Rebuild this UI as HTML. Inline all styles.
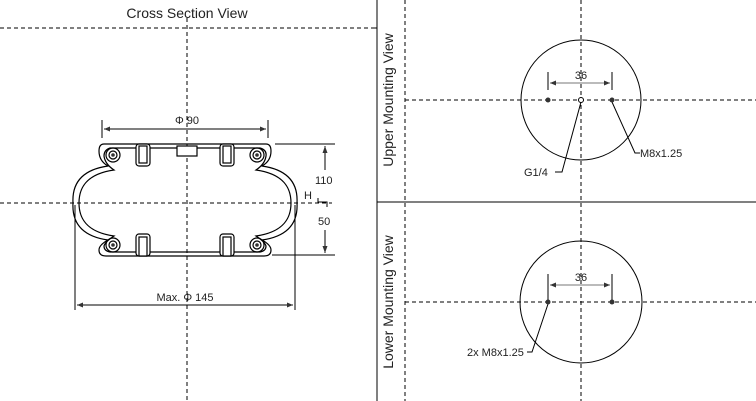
<!DOCTYPE html>
<html><head><style>
body{margin:0;background:#fff}
svg{display:block}
text{font-family:"Liberation Sans",sans-serif;fill:#222}
</style></head><body>
<svg width="756" height="401" viewBox="0 0 756 401">
<g stroke="#000" fill="none" stroke-width="1">
<line x1="377" y1="0" x2="377" y2="401"/>
<line x1="377" y1="202" x2="756" y2="202"/>
<line x1="374" y1="28" x2="377" y2="28"/>
<g stroke-dasharray="4,3">
<line x1="0" y1="28" x2="374" y2="28"/>
<line x1="187" y1="18" x2="187" y2="401"/>
<line x1="0" y1="203" x2="332" y2="203"/>
<line x1="405" y1="0" x2="405" y2="401"/>
<line x1="581" y1="0" x2="581" y2="401"/>
<line x1="405" y1="100" x2="756" y2="100"/>
<line x1="405" y1="302" x2="756" y2="302"/>
</g>
<circle cx="581" cy="100" r="60"/>
<circle cx="581" cy="302" r="61"/>
<line x1="548" y1="72" x2="548" y2="90"/><line x1="612" y1="72" x2="612" y2="90"/>
<line x1="550" y1="83" x2="610" y2="83" stroke="#777"/>
<line x1="548" y1="274" x2="548" y2="302"/><line x1="612" y1="274" x2="612" y2="302"/>
<line x1="550" y1="285" x2="610" y2="285" stroke="#777"/>
<polyline points="581,102 562,172 555,172"/>
<polyline points="612,102 635,153 640,153"/>
<polyline points="548,304 532,352 527,352"/>
<line x1="102" y1="120" x2="102" y2="138"/><line x1="268" y1="120" x2="268" y2="138"/>
<line x1="104" y1="129" x2="266" y2="129"/>
<line x1="75" y1="205" x2="75" y2="310"/><line x1="295" y1="205" x2="295" y2="310"/>
<line x1="77" y1="305" x2="293" y2="305"/>
<line x1="275" y1="144" x2="335" y2="144"/><line x1="272" y1="255" x2="335" y2="255"/>
<line x1="325" y1="146" x2="325" y2="170"/><line x1="325" y1="230" x2="325" y2="253"/>
<polyline points="318,198 318,202 327,202 327,207"/>
<g stroke-width="1.2">
<path d="M104,144 L266,144 Q271,144 271,151 Q271,161 262,166 C290,170 298,185 297,203 C298,221 290,236 262,240 Q271,245 271,250 Q271,256 264,256 L106,256 Q99,256 99,250 Q99,245 108,240 C80,236 72,221 73,203 C72,185 80,170 108,166 Q99,161 99,151 Q99,144 104,144Z"/>
<path d="M110,148 L260,148 Q267,150 266,156 Q265,164 256,170 C284,174 291,188 291,203 C291,218 284,232 256,236 Q265,242 266,246 Q266,251 260,252 L110,252 Q104,251 104,246 Q105,242 114,236 C86,232 79,218 79,203 C79,188 86,174 114,170 Q105,164 104,156 Q104,150 110,148Z"/>
<circle cx="113" cy="155" r="7"/><circle cx="113" cy="155" r="4"/>
<circle cx="257" cy="155" r="7"/><circle cx="257" cy="155" r="4"/>
<circle cx="113" cy="245" r="7"/><circle cx="113" cy="245" r="4"/>
<circle cx="257" cy="245" r="7"/><circle cx="257" cy="245" r="4"/>
<rect x="136" y="144" width="14" height="22" rx="3" fill="#fff"/>
<rect x="139" y="146" width="8" height="17" fill="#fff"/>
<rect x="220" y="144" width="14" height="22" rx="3" fill="#fff"/>
<rect x="223" y="146" width="8" height="17" fill="#fff"/>
<rect x="136" y="234" width="14" height="22" rx="3" fill="#fff"/>
<rect x="139" y="237" width="8" height="19" fill="#fff"/>
<rect x="220" y="234" width="14" height="22" rx="3" fill="#fff"/>
<rect x="223" y="237" width="8" height="19" fill="#fff"/>
<rect x="177" y="146" width="20" height="10" fill="#fff"/>
</g>
</g>
<g fill="#333">
<path d="M104,129 l6,-2.5 v5z M266,129 l-6,-2.5 v5z M77,305 l6,-2.5 v5z M293,305 l-6,-2.5 v5z M325,146 l-2.5,7 h5z M325,253 l-2.5,-7 h5z"/>
<path d="M550,83 l6,-2.5 v5z M610,83 l-6,-2.5 v5z M550,285 l6,-2.5 v5z M610,285 l-6,-2.5 v5z"/>
<circle cx="548" cy="100" r="2.5"/><circle cx="612" cy="100" r="2.5"/>
<circle cx="548" cy="302" r="2.5"/><circle cx="612" cy="302" r="2.5"/>
<circle cx="113" cy="155" r="1.8"/><circle cx="257" cy="155" r="1.8"/><circle cx="113" cy="245" r="1.8"/><circle cx="257" cy="245" r="1.8"/>
</g>
<circle cx="581" cy="100" r="2.5" fill="#fff" stroke="#000"/>
<text x="187" y="18" font-size="14" text-anchor="middle">Cross Section View</text>
<text x="187" y="124" font-size="11" text-anchor="middle">Φ 90</text>
<text x="185" y="301" font-size="11" text-anchor="middle">Max. Φ 145</text>
<text x="315" y="184" font-size="11">110</text>
<text x="318" y="225" font-size="11">50</text>
<text x="304" y="199" font-size="11">H</text>
<text x="581" y="79" font-size="11" text-anchor="middle">36</text>
<text x="581" y="281" font-size="11" text-anchor="middle">36</text>
<text x="524" y="176" font-size="11">G1/4</text>
<text x="640" y="157" font-size="11">M8x1.25</text>
<text x="467" y="356" font-size="11">2x M8x1.25</text>
<text transform="translate(393,100) rotate(-90)" font-size="14" text-anchor="middle">Upper Mounting View</text>
<text transform="translate(393,302) rotate(-90)" font-size="14" text-anchor="middle">Lower Mounting View</text>
</svg>
</body></html>
